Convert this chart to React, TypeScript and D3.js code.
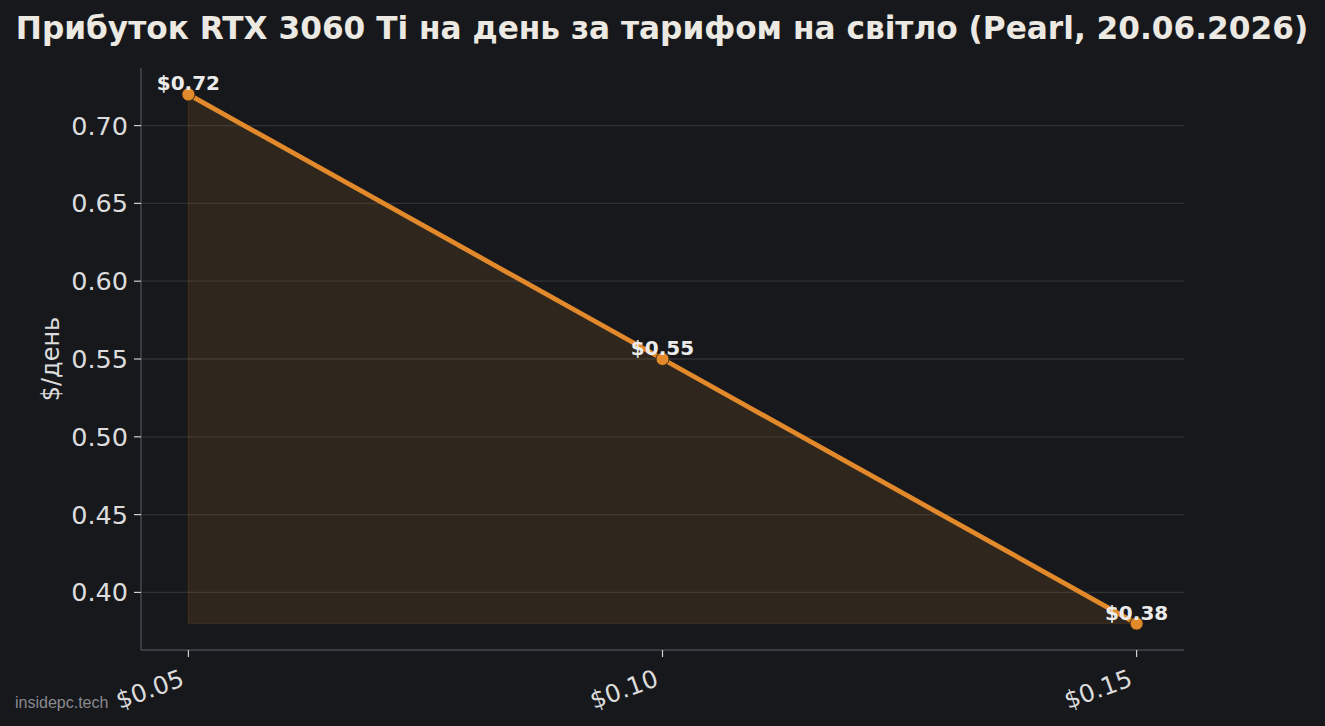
import React, { useEffect, useRef } from 'react';
import * as d3 from 'd3';

const tariffs = [0.05, 0.10, 0.15];
const profits = [0.72, 0.55, 0.38];
const yTicks = [0.40, 0.45, 0.50, 0.55, 0.60, 0.65, 0.70];
const title = 'Прибуток RTX 3060 Ti на день за тарифом на світло (Pearl, 20.06.2026)';

const W = 1325;
const H = 726;

const App: React.FC = () => {
  const svgRef = useRef<SVGSVGElement>(null);

  useEffect(() => {
    if (!svgRef.current) return;
    const svg = d3.select(svgRef.current);
    svg.selectAll('*').remove();

    const left = 141, right = 1184, top = 68, bottom = 650;
    const font = '"DejaVu Sans", sans-serif';
    const lineColor = '#e2892b';

    svg.append('rect').attr('width', W).attr('height', H).attr('fill', '#17181c');

    // matplotlib-like 5% margins
    const xPad = (d3.max(tariffs)! - d3.min(tariffs)!) * 0.05;
    const yPad = (d3.max(profits)! - d3.min(profits)!) * 0.05;
    const x = d3.scaleLinear()
      .domain([d3.min(tariffs)! - xPad, d3.max(tariffs)! + xPad])
      .range([left, right]);
    const y = d3.scaleLinear()
      .domain([d3.min(profits)! - yPad, d3.max(profits)! + yPad])
      .range([bottom, top]);

    // Grid
    svg.append('g')
      .selectAll('line')
      .data(yTicks)
      .join('line')
      .attr('x1', left).attr('x2', right)
      .attr('y1', d => y(d)).attr('y2', d => y(d))
      .attr('stroke', '#2f3034').attr('stroke-width', 1.3);

    const pts = tariffs.map((t, i) => ({ t, v: profits[i] }));
    const base = d3.min(profits)!;

    // Area under line
    const area = d3.area<{ t: number; v: number }>()
      .x(d => x(d.t)).y0(y(base)).y1(d => y(d.v));
    svg.append('path')
      .datum(pts)
      .attr('d', area)
      .attr('fill', lineColor).attr('fill-opacity', 0.12)
      .attr('stroke', lineColor).attr('stroke-opacity', 0.12).attr('stroke-width', 1.5);

    // Spines
    svg.append('line').attr('x1', left).attr('x2', left).attr('y1', top).attr('y2', bottom)
      .attr('stroke', '#45474d').attr('stroke-width', 1.5);
    svg.append('line').attr('x1', left).attr('x2', right).attr('y1', bottom).attr('y2', bottom)
      .attr('stroke', '#45474d').attr('stroke-width', 1.5);

    // Y axis ticks
    const yg = svg.append('g');
    yg.selectAll('line').data(yTicks).join('line')
      .attr('x1', left - 7).attr('x2', left)
      .attr('y1', d => y(d)).attr('y2', d => y(d))
      .attr('stroke', '#cfcfcf').attr('stroke-width', 1.2);
    yg.selectAll('text').data(yTicks).join('text')
      .attr('x', left - 13).attr('y', d => y(d))
      .attr('dy', '0.35em')
      .attr('text-anchor', 'end')
      .attr('font-family', font).attr('font-size', 25.5)
      .attr('fill', '#dcdcdc')
      .text(d => d3.format('.2f')(d));

    // X axis ticks
    const xg = svg.append('g');
    xg.selectAll('line').data(tariffs).join('line')
      .attr('x1', d => x(d)).attr('x2', d => x(d))
      .attr('y1', bottom).attr('y2', bottom + 7)
      .attr('stroke', '#cfcfcf').attr('stroke-width', 1.2);
    xg.selectAll('text').data(tariffs).join('text')
      .attr('transform', d => `translate(${x(d) - 9},${bottom + 18}) rotate(-20)`)
      .attr('dy', '0.75em')
      .attr('text-anchor', 'end')
      .attr('font-family', font).attr('font-size', 24.5)
      .attr('fill', '#dcdcdc')
      .text(d => `$${d3.format('.2f')(d)}`);

    // Y label
    svg.append('text')
      .attr('transform', `translate(59,${(top + bottom) / 2}) rotate(-90)`)
      .attr('text-anchor', 'middle')
      .attr('font-family', font).attr('font-size', 24)
      .attr('fill', '#dcdcdc')
      .text('$/день');

    // Line
    const line = d3.line<{ t: number; v: number }>().x(d => x(d.t)).y(d => y(d.v));
    svg.append('path')
      .datum(pts)
      .attr('d', line)
      .attr('fill', 'none')
      .attr('stroke', lineColor).attr('stroke-width', 4.8)
      .attr('stroke-linecap', 'round');

    // Markers
    svg.append('g').selectAll('circle').data(pts).join('circle')
      .attr('cx', d => x(d.t)).attr('cy', d => y(d.v))
      .attr('r', 6.5)
      .attr('fill', lineColor)
      .attr('stroke', '#3a2a18').attr('stroke-width', 1);

    // Value labels
    svg.append('g').selectAll('text').data(pts).join('text')
      .attr('x', d => x(d.t)).attr('y', d => y(d.v) - 4)
      .attr('text-anchor', 'middle')
      .attr('font-family', font).attr('font-weight', 'bold').attr('font-size', 20)
      .attr('fill', '#ebebeb')
      .text(d => `$${d3.format('.2f')(d.v)}`);

    // Title
    svg.append('text')
      .attr('x', 662).attr('y', 39)
      .attr('text-anchor', 'middle')
      .attr('font-family', font).attr('font-weight', 'bold').attr('font-size', 31.2)
      .attr('fill', '#ece9e2')
      .text(title);

    // Watermark
    svg.append('text')
      .attr('x', 15).attr('y', 708)
      .attr('font-family', '"Liberation Sans", Arial, sans-serif').attr('font-size', 16)
      .attr('fill', '#8a8b8f')
      .text('insidepc.tech');
  }, []);

  return (
    <svg ref={svgRef} width={W} height={H} viewBox={`0 0 ${W} ${H}`}
      style={{ display: 'block', position: 'absolute', left: 0, top: 0 }} />
  );
};

export default App;
